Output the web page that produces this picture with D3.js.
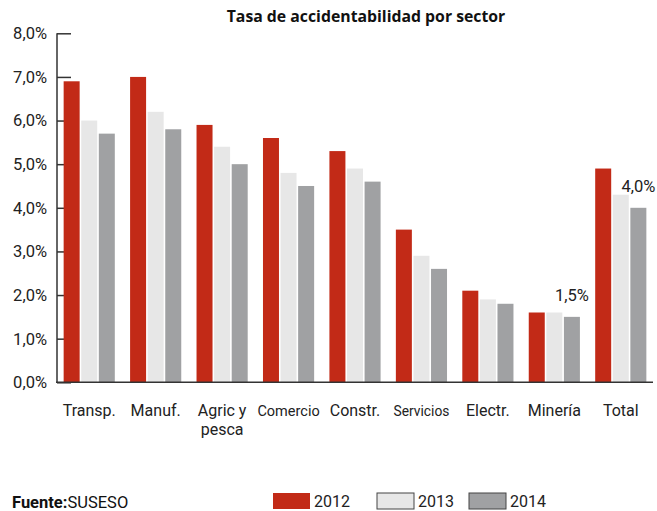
<!DOCTYPE html>
<html><head><meta charset="utf-8">
<script src="https://cdn.jsdelivr.net/npm/d3@7"></script>
<style>
body{margin:0;background:#fff;}
svg{display:block;font-family:Roboto, "DejaVu Sans", sans-serif;}
</style></head>
<body><div id="chart"></div>
<script>
const categories = ["Transp.", "Manuf.", "Agric y\npesca", "Comercio", "Constr.", "Servicios", "Electr.", "Minería", "Total"];
const series = ["2012", "2013", "2014"];
const values2012 = [6.9, 7.0, 5.9, 5.6, 5.3, 3.5, 2.1, 1.6, 4.9];
const values2013 = [6.0, 6.2, 5.4, 4.8, 4.9, 2.9, 1.9, 1.6, 4.3];
const values2014 = [5.7, 5.8, 5.0, 4.5, 4.6, 2.6, 1.8, 1.5, 4.0];
const yTicks = [0, 1, 2, 3, 4, 5, 6, 7, 8];
const annotations = [{cat: "Minería", series: "2014", text: "1,5%"}, {cat: "Total", series: "2014", text: "4,0%"}];
const colors = ["#c22a17", "#e7e7e7", "#a0a1a3"];

const W = 657, H = 511;
const svg = d3.select("#chart").append("svg").attr("width", W).attr("height", H);

const x0 = d3.scaleBand().domain(categories).range([57, 653]).paddingInner(0.23).paddingOuter(0.1);
const x1 = d3.scaleBand().domain(series).range([0, x0.bandwidth()]).paddingInner(0.09);
const y = d3.scaleLinear().domain([0, 8]).range([382.3, 33.3]);
const color = d3.scaleOrdinal().domain(series).range(colors);
const seriesValues = {"2012": values2012, "2013": values2013, "2014": values2014};

const fmt = v => d3.format(".1f")(v).replace(".", ",") + "%";

// y axis
const yAxis = svg.append("g").attr("transform", "translate(57,0)")
  .call(d3.axisRight(y).tickValues(yTicks).tickSize(14).tickFormat(""));
yAxis.select(".domain").attr("stroke", "#333").attr("stroke-width", 1.5).attr("d", `M0,${y(8)}V${y(0)}`);
yAxis.selectAll(".tick line").attr("stroke", "#333").attr("stroke-width", 1.5);
svg.append("g").selectAll("text").data(yTicks).join("text")
  .attr("x", 47).attr("y", d => y(d)).attr("dy", "0.36em")
  .attr("text-anchor", "end").attr("font-size", 16.5).attr("fill", "#222")
  .text(fmt);

// bars
const groups = svg.append("g").selectAll("g").data(categories).join("g")
  .attr("transform", d => `translate(${x0(d)},0)`);
groups.selectAll("rect").data((c, i) => series.map(s => ({s, v: seriesValues[s][i]})))
  .join("rect")
  .attr("x", d => x1(d.s)).attr("width", x1.bandwidth())
  .attr("y", d => y(d.v)).attr("height", d => y(0) - y(d.v))
  .attr("fill", d => color(d.s));

// x axis baseline
svg.append("line").attr("x1", 56).attr("x2", 653).attr("y1", y(0)).attr("y2", y(0))
  .attr("stroke", "#333").attr("stroke-width", 1.5);

// category labels
const catLabels = svg.append("g").selectAll("text").data(categories).join("text")
  .attr("text-anchor", "middle").attr("fill", "#222")
  .attr("font-size", d => d === "Comercio" ? 14.5 : d === "Servicios" ? 13.8 : 16)
  .attr("transform", d => `translate(${x0(d) + x0.bandwidth() / 2},416)`);
catLabels.each(function(d) {
  const lines = d.split("\n");
  d3.select(this).selectAll("tspan").data(lines).join("tspan")
    .attr("x", 0).attr("dy", (l, i) => i === 0 ? 0 : 19).text(l => l);
});

// annotations
svg.append("g").selectAll("text").data(annotations).join("text")
  .attr("x", d => x0(d.cat) + x1(d.series) + x1.bandwidth() / 2)
  .attr("y", d => y(seriesValues[d.series][categories.indexOf(d.cat)]) - 16)
  .attr("text-anchor", "middle").attr("font-size", 16.5).attr("fill", "#222")
  .text(d => d.text);

// title
svg.append("text").attr("x", 366).attr("y", 22).attr("text-anchor", "middle")
  .attr("font-size", 15.8).attr("font-weight", "bold").attr("fill", "#111")
  .style("font-family", "'Open Sans', Roboto, sans-serif")
  .text("Tasa de accidentabilidad por sector");

// legend
const legendX = [273, 377, 469];
const lg = svg.append("g").selectAll("g").data(series).join("g")
  .attr("transform", (d, i) => `translate(${legendX[i]},493)`);
lg.append("rect").attr("width", 37).attr("height", 16)
  .attr("fill", d => color(d))
  .attr("stroke", (d, i) => i === 0 ? "none" : "#444").attr("stroke-width", 1);
lg.append("text").attr("x", 41).attr("y", 14).attr("font-size", 16).attr("fill", "#222").text(d => d);

// source
const src = svg.append("text").attr("x", 12).attr("y", 508).attr("font-size", 16.5).attr("fill", "#111");
src.append("tspan").attr("font-weight", "bold").text("Fuente:");
src.append("tspan").text("SUSESO");
</script></body></html>
